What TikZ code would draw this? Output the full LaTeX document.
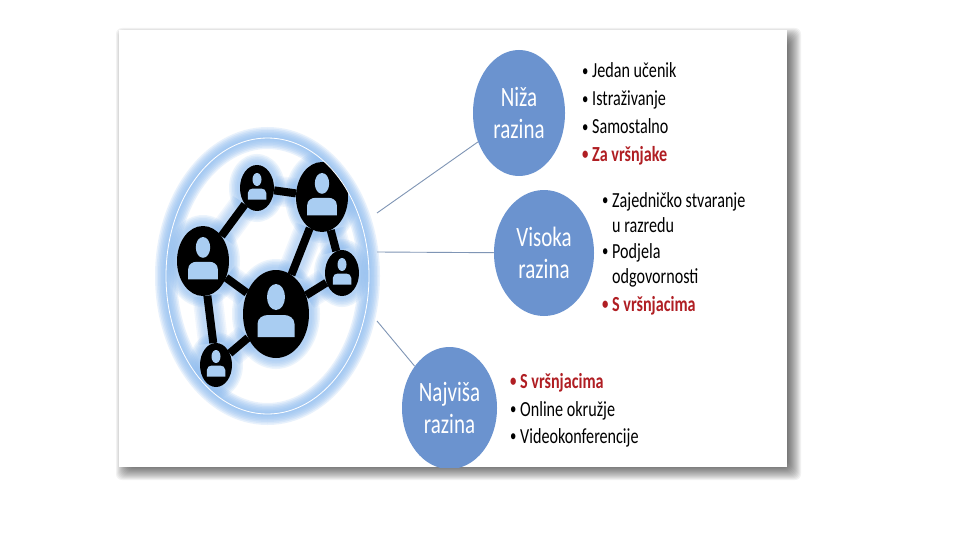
\documentclass[tikz,border=0pt]{standalone}
\usepackage{fontspec}
\usetikzlibrary{shapes.geometric}
\newfontfamily\tight[FakeStretch=0.75]{Carlito}
\definecolor{glowblue}{HTML}{8FBDF0}
\definecolor{iconblue}{HTML}{A9CDF2}
\definecolor{circblue}{HTML}{6B93CF}
\definecolor{linkgrey}{HTML}{7F95B5}
\definecolor{darkred}{HTML}{B01E23}
\tikzset{
  x=1pt,y=-1pt,
  member/.style={ellipse,inner sep=0pt},
  level/.style={ellipse,fill=circblue,inner sep=0pt,text=white,align=center,font=\tight\fontsize{28}{32}\selectfont},
  item/.style={anchor=base west,inner sep=0pt,align=left,font=\tight\fontsize{21.5}{25}\selectfont},
  hot/.style={item,text=darkred,font=\tight\bfseries\fontsize{21.5}{25}\selectfont},
  spoke/.style={draw=linkgrey,line width=0.9pt},
  tie/.style={draw=black,line width=8pt},
}
\newcommand{\bu}{\makebox[10pt][l]{\raisebox{1.5pt}{\fontsize{17}{17}\selectfont•}}}
\newcommand{\icon}[2]{%
  \begin{scope}[shift={(#1)},scale=#2]
    \fill[iconblue] (0,-17) ellipse [x radius=9,y radius=13];
    \fill[iconblue] (-18.5,23) -- (-18.5,10) .. controls (-18.5,4) and (-13,1) .. (-8,1) -- (8,1) .. controls (13,1) and (18.5,4) .. (18.5,10) -- (18.5,23) -- cycle;
  \end{scope}}
\newcommand{\ties}[1]{%
  \draw[#1] (tsm) -- (tbg) (tsm) -- (lft) (tbg) -- (ctr) (tbg) -- (rsm) (ctr) -- (rsm) (lft) -- (ctr) (lft) -- (bsm) (bsm) -- (ctr);}
\begin{document}
\begin{tikzpicture}
\useasboundingbox (0,0) rectangle (960,540);
% panel shadow
\foreach \d in {8,7,...,-8}
  \fill[black,opacity=0.05,rounded corners=6pt] (124-\d,36-\d) rectangle (793+\d,472+\d);
\fill[white] (119,30) rectangle (787,467);
% ring glow
\foreach \w in {22,19,16,13,10,7,4}
  \draw[glowblue,opacity=0.2,line width=\w pt] (267.5,276) ellipse [x radius=101.5,y radius=138];
% network
\node[member,minimum width=34pt,minimum height=46pt] (tsm) at (257,188) {};
\node[member,minimum width=52pt,minimum height=70pt] (tbg) at (322,197) {};
\node[member,minimum width=52pt,minimum height=70pt] (lft) at (203,261) {};
\node[member,minimum width=66pt,minimum height=88pt] (ctr) at (276,314) {};
\node[member,minimum width=34pt,minimum height=46pt] (rsm) at (342,273) {};
\node[member,minimum width=32pt,minimum height=44pt] (bsm) at (216,365) {};
\begin{scope}
  \clip (267.5,276) ellipse [x radius=101.5,y radius=138];
  \foreach \w in {22,19,16,13,10,7} {
    \ties{glowblue,opacity=0.12,line width=\w pt+8pt}
    \foreach \n/\a/\b in {tsm/17/23,tbg/26/35,lft/26/35,ctr/33/44,rsm/17/23,bsm/16/22}
      \fill[glowblue,opacity=0.16] (\n) ellipse [x radius=\a+\w/2,y radius=\b+\w/2];
  }
  \ties{tie}
  \foreach \n/\a/\b in {tsm/17/23,tbg/26/35,lft/26/35,ctr/33/44,rsm/17/23,bsm/16/22}
    \fill[black] (\n) ellipse [x radius=\a,y radius=\b];
  \icon{tsm}{0.5}
  \icon{tbg}{0.8}
  \icon{lft}{0.8}
  \icon{ctr}{1}
  \icon{rsm}{0.5}
  \icon{bsm}{0.5}
\end{scope}
\draw[white,line width=0.8pt] (267.5,276) ellipse [x radius=101.5,y radius=138];
% levels
\begin{scope}
  \clip (119,30) rectangle (787,467);
  \node[level,minimum width=92pt,minimum height=126pt] (niza) at (519,113) {Niža\\razina};
  \node[level,minimum width=100pt,minimum height=126pt] (vis) at (544,253) {Visoka\\razina};
  \node[level,minimum width=95pt,minimum height=122pt] (naj) at (449.5,408) {Najviša\\razina};
\end{scope}
\coordinate (a1) at (377,213);
\coordinate (a2) at (377,252);
\coordinate (a3) at (377,321);
\draw[spoke] (a1) -- (niza);
\draw[spoke] (a2) -- (vis);
\draw[spoke] (a3) -- (naj);
% lists
\node[item] (n1) at (582,78) {\bu Jedan učenik};
\node[item] (n2) at (582,106) {\bu Istraživanje};
\node[item] (n3) at (582,134) {\bu Samostalno};
\node[hot]  (n4) at (582,161) {\bu Za vršnjake};
\node[item,anchor=north west] (v1) at (602,192) {\bu Zajedničko stvaranje\\\hspace*{10pt}u razredu};
\node[item,anchor=north west] (v2) at (602,243) {\bu Podjela\\\hspace*{10pt}odgovornosti};
\node[hot]  (v3) at (602,311) {\bu S vršnjacima};
\node[hot]  (j1) at (510,388) {\bu S vršnjacima};
\node[item] (j2) at (510,416) {\bu Online okružje};
\node[item] (j3) at (510,443) {\bu Videokonferencije};
\end{tikzpicture}
\end{document}
